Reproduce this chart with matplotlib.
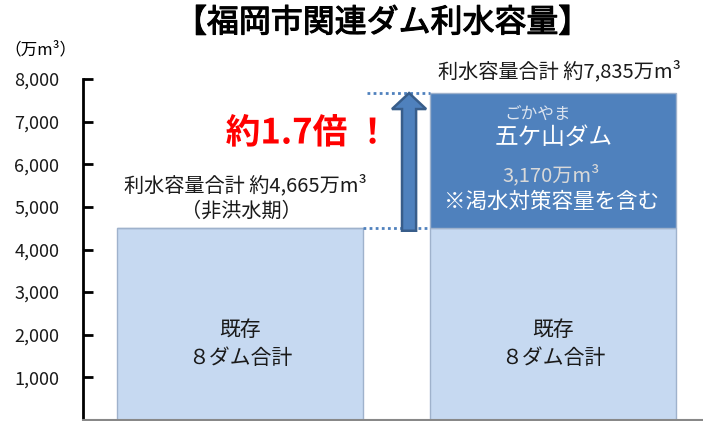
import matplotlib
matplotlib.use("Agg")
import matplotlib.pyplot as plt
from matplotlib.patches import FancyArrow
import matplotlib.patheffects as pe

plt.rcParams['font.family'] = ['Noto Sans CJK JP', 'DejaVu Sans']

# ---- data ----
categories = ["現在", "五ケ山ダム完成後"]
existing = [4500, 4500]          # 既存8ダム合計 (drawn height)
gokayama = [0, 3170]             # 五ケ山ダム
yticks = [1000, 2000, 3000, 4000, 5000, 6000, 7000, 8000]
ytick_labels = ["1,000", "2,000", "3,000", "4,000", "5,000", "6,000", "7,000", "8,000"]
title = "【福岡市関連ダム利水容量】"
unit_label = "（万m³）"
left_total = "利水容量合計 約4,665万m³"
left_note = "（非洪水期）"
right_total = "利水容量合計 約7,835万m³"
ratio_text = "約1.7倍 ！"
existing_label = "既存\n８ダム合計"

W, H = 703, 421
fig = plt.figure(figsize=(W / 100, H / 100), dpi=100)
ax = fig.add_axes([83 / W, 1 / H, (W - 83) / W, (420 - 79) / H])

x = list(range(len(categories)))
bw = 0.786
light = '#C6D9F1'
dark = '#4F81BD'
edge = '#9FB2CC'

ax.bar(x, existing, width=bw, color=light, edgecolor=edge, linewidth=1, zorder=2)
ax.bar(x, gokayama, width=bw, bottom=existing, color=dark, edgecolor=edge, linewidth=1, zorder=2)

ax.set_xlim(-0.5016, 1.479)
ax.set_ylim(0, 8000)
ax.set_yticks(yticks)
ax.set_yticklabels(ytick_labels, fontsize=13, color='#1a1a1a')
ax.set_xticks([])
ax.tick_params(axis='y', direction='in', length=7, width=2, pad=17, color='black')
for s in ['top', 'right']:
    ax.spines[s].set_visible(False)
ax.spines['left'].set_linewidth(2)
ax.spines['left'].set_color('black')
ax.spines['bottom'].set_color('#888888')
ax.spines['bottom'].set_linewidth(1.5)

# dotted guide lines
top_total = existing[1] + gokayama[1]
ax.plot([bw / 2, 1 - bw / 2], [existing[0], existing[0]], linestyle=(0, (1, 1.2)),
        color=dark, lw=2, zorder=3)
ax.plot([bw / 2 + 0.013, 1 - bw / 2], [top_total, top_total], linestyle=(0, (1, 1.2)),
        color=dark, lw=2, zorder=3)

# arrow
arr = FancyArrow(0.54, existing[0] - 60, 0, top_total - existing[0] + 60,
                 width=0.045, head_width=0.109, head_length=375,
                 length_includes_head=True, facecolor=dark, edgecolor='#385D8A',
                 lw=1.8, zorder=4)
ax.add_patch(arr)

# texts
txtc = '#1a1a1a'
ax.text(0.016, 5513, left_total, ha='center', va='center', fontsize=14.5, color=txtc)
ax.text(0.005, 4903, left_note, ha='center', va='center', fontsize=14.5, color=txtc)
ax.text(1.02, 8187, right_total, ha='center', va='center', fontsize=14.5, color=txtc)
ax.text(0.217, 6733, ratio_text, ha='center', va='center', fontsize=25, color='#FF0000',
        fontweight='bold',
        path_effects=[pe.withStroke(linewidth=2.5, foreground='white')])

ax.text(0.95, 7179, "ごかやま", ha='center', va='center', fontsize=12, color='#DCE4EF')
ax.text(1.003, 6639, "五ケ山ダム", ha='center', va='center', fontsize=17, color='white')
ax.text(0.994, 5748, "3,170万m³", ha='center', va='center', fontsize=14.5, color='#D9D9D9')
ax.text(0.994, 5114, "※渇水対策容量を含む", ha='center', va='center', fontsize=15.5, color='white')

for xi in x:
    ax.text(xi, 1780, existing_label, ha='center', va='center', fontsize=15,
            color=txtc, linespacing=1.35)

fig.text(383 / W, 1 - 23 / H, title, ha='center', va='center', fontsize=23,
         fontweight='normal', color='black',
         path_effects=[pe.withStroke(linewidth=0.8, foreground='black')])
fig.text(40 / W, 1 - 50 / H, unit_label, ha='center', va='center', fontsize=12, color='black')

fig.savefig("out.png", dpi=100)
